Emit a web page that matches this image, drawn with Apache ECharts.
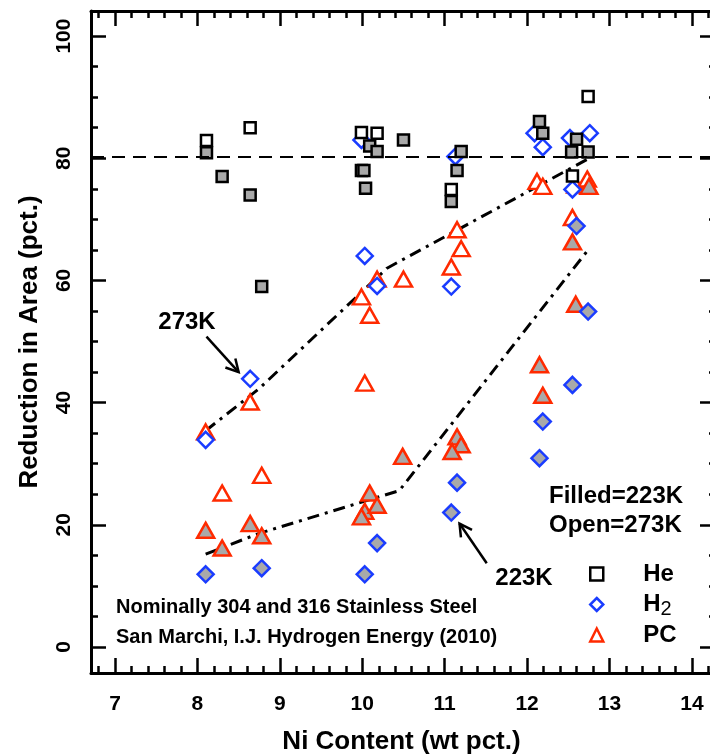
<!DOCTYPE html>
<html><head><meta charset="utf-8">
<script src="https://cdn.jsdelivr.net/npm/echarts@6/dist/echarts.min.js"></script>
<style>html,body{margin:0;padding:0;background:#fff}#c{width:710px;height:756px}</style>
</head><body><div id="c"></div>
<script>
// ---------- data ----------
const xTickValues = [7, 8, 9, 10, 11, 12, 13, 14];
const yTickValues = [0, 20, 40, 60, 80, 100];

// He (squares): open = 273K, filled = 223K
const heOpen = [[8.11,82.9],[8.64,85.0],[9.99,84.2],[10.18,84.1],[9.99,78.0],[11.08,74.9],[12.74,90.1],[12.55,77.1]];
const heFilled = [[8.11,80.9],[8.30,77.0],[8.64,74.0],[8.78,59.0],[10.09,82.0],[10.18,81.1],[10.02,78.0],[10.04,75.1],[10.50,83.0],
  [11.20,81.1],[11.15,78.0],[11.08,72.9],[12.15,86.0],[12.19,84.1],[12.60,83.1],[12.54,81.0],[12.74,81.0]];
// H2 (diamonds)
const h2Open = [[9.99,83.0],[8.64,43.9],[8.10,33.9],[10.03,64.0],[10.18,59.1],[11.08,59.0],[11.13,80.3],[12.09,84.1],[12.19,81.8],
  [12.76,84.1],[12.52,83.3],[12.55,74.9]];
const h2Filled = [[8.10,11.9],[8.78,12.9],[10.03,11.9],[10.18,17.0],[11.08,22.0],[11.15,26.9],[12.15,30.9],[12.19,36.9],[12.55,42.9],
  [12.60,68.9],[12.74,54.9]];
// PC (triangles)
const pcOpen = [[8.10,35.2],[8.64,40.1],[8.30,25.2],[8.78,28.1],[10.03,43.2],[9.99,57.3],[10.09,54.3],[10.18,60.2],[10.50,60.2],
  [11.15,68.3],[11.20,65.2],[11.08,62.2],[12.12,76.2],[12.19,75.4],[12.55,70.3],[12.59,75.6],[12.73,76.6]];
const pcFilled = [[8.10,19.1],[8.30,16.2],[8.64,20.2],[8.78,18.2],[10.09,25.2],[10.03,22.2],[9.99,21.3],[10.18,23.2],[10.49,31.2],
  [11.15,34.4],[11.20,33.1],[11.09,32.0],[12.15,46.2],[12.19,41.2],[12.55,66.3],[12.59,56.1],[12.75,75.4]];

// trend lines
const trend273 = [[8.10,35.4],[8.75,42.3],[10.30,62.0],[12.74,79.9]];
const trend223 = [[8.10,15.2],[8.75,18.6],[10.45,25.6],[12.74,65.0]];
const refLevel = 80.3;

// annotation arrows (data coordinates: tail -> tip)
const arrow273 = { tail: [8.11, 50.8], tip: [8.50, 45.0] };
const arrow223 = { tail: [11.51, 13.7], tip: [11.18, 20.2] };

// ---------- chart ----------
const FONT = "'Liberation Sans', Arial, Helvetica, sans-serif";
const X_MIN = 6.709, X_MAX = 14.243, Y_MIN = -4.26, Y_MAX = 104.1;
const xMinor = []; for (let k = 68; k <= 142; k += 2) if (k % 10) xMinor.push(k / 10);
const yMinor = []; for (let k = 5; k <= 100; k += 5) if (k % 20) yMinor.push(k);

const RED = '#ff2a00', BLUE = '#1a3cff', GRAY = '#a9a9a9';

function mkX(position, ticks, len, labels, line) {
  return {
    type: 'value', gridIndex: 0, position, min: X_MIN, max: X_MAX,
    axisLine: { show: line, onZero: false, lineStyle: { color: '#000', width: 3 } },
    splitLine: { show: false },
    axisTick: { show: true, inside: true, length: len, customValues: ticks, lineStyle: { color: '#000', width: 2.5 } },
    axisLabel: labels ? { show: true, customValues: xTickValues, margin: 21, fontSize: 21, fontWeight: 'bold', color: '#000', fontFamily: FONT } : { show: false },
    name: labels ? 'Ni Content (wt pct.)' : '', nameLocation: 'middle', nameGap: 56,
    nameTextStyle: { fontSize: 26, fontWeight: 'bold', color: '#000', fontFamily: FONT }
  };
}
function mkY(position, ticks, len, labels, line) {
  return {
    type: 'value', gridIndex: 0, position, min: Y_MIN, max: Y_MAX,
    axisLine: { show: line, onZero: false, lineStyle: { color: '#000', width: 3 } },
    splitLine: { show: false },
    axisTick: { show: true, inside: true, length: len, customValues: ticks, lineStyle: { color: '#000', width: 2.5 } },
    axisLabel: labels ? { show: true, customValues: yTickValues, rotate: 90, margin: 16, fontSize: 21, fontWeight: 'bold', color: '#000', fontFamily: FONT } : { show: false },
    name: labels ? 'Reduction in Area (pct.)' : '', nameLocation: 'middle', nameGap: 48, nameRotate: 90,
    nameTextStyle: { fontSize: 26, fontWeight: 'bold', color: '#000', fontFamily: FONT }
  };
}
function sc(name, data, symbol, size, stroke, fill) {
  return { type: 'scatter', name, data, symbol, symbolSize: size, z: 3,
    itemStyle: { color: fill, borderColor: stroke, borderWidth: 2.5, opacity: 1 },
    emphasis: { disabled: true } };
}
const TRI = [17, 15];

const option = {
  animation: false,
  backgroundColor: '#fff',
  grid: { left: 91, top: 11, width: 621, height: 662, containLabel: false, outerBoundsMode: 'none' },
  xAxis: [
    mkX('bottom', xTickValues, 15, true, true),
    mkX('bottom', xMinor, 7, false, false),
    mkX('top', xTickValues, 15, false, true),
    mkX('top', xMinor, 7, false, false)
  ],
  yAxis: [
    mkY('left', yTickValues, 15, true, true),
    mkY('left', yMinor, 7, false, false),
    mkY('right', yTickValues, 12, false, true),
    mkY('right', yMinor, 3, false, false)
  ],
  legend: {
    data: ['He', 'H2', 'PC'], orient: 'vertical', left: 584, top: 554,
    itemWidth: 13, itemHeight: 13, itemGap: 0.5, selectedMode: false,
    itemStyle: { borderWidth: 2.5 },
    formatter: n => n === 'H2' ? 'H{sub|2}' : n,
    textStyle: { fontSize: 24, fontWeight: 'bold', color: '#000', fontFamily: FONT, lineHeight: 30, padding: [0, 0, 0, 35],
      rich: { sub: { fontSize: 20, fontWeight: 'normal', color: '#000', fontFamily: FONT, lineHeight: 20, verticalAlign: 'bottom' } } }
  },
  series: [
    { type: 'line', name: 'trend273', data: trend273, showSymbol: false, z: 2, silent: true,
      lineStyle: { color: '#000', width: 3, type: [12, 6, 3, 6] },
      markLine: { silent: true, symbol: ['none', 'none'], label: { show: false },
        lineStyle: { color: '#000', width: 2, type: [13, 8] }, data: [{ yAxis: refLevel }] } },
    { type: 'line', name: 'trend223', data: trend223, showSymbol: false, z: 2, silent: true,
      lineStyle: { color: '#000', width: 3, type: [12, 6, 3, 6] } },
    sc('PC', pcOpen, 'triangle', TRI, RED, '#fff'),
    sc('PC', pcFilled, 'triangle', TRI, RED, GRAY),
    sc('H2', h2Open, 'diamond', 16, BLUE, '#fff'),
    sc('H2', h2Filled, 'diamond', 16, BLUE, GRAY),
    sc('He', heOpen, 'rect', 11, '#000', '#fff'),
    sc('He', heFilled, 'rect', 11, '#000', GRAY)
  ]
};

const chart = echarts.init(document.getElementById('c'), null, { renderer: 'canvas' });
chart.setOption(option);

function px(p) { return chart.convertToPixel({ gridIndex: 0 }, p); }
const graphics = [];
[arrow273, arrow223].forEach(a => {
  const t = px(a.tail), h = px(a.tip);
  const ang = Math.atan2(t[1] - h[1], t[0] - h[0]);
  const L = 14, sp = 0.5;
  const a1 = [h[0] + L * Math.cos(ang + sp), h[1] + L * Math.sin(ang + sp)];
  const a2 = [h[0] + L * Math.cos(ang - sp), h[1] + L * Math.sin(ang - sp)];
  graphics.push({ type: 'polyline', z: 10, shape: { points: [t, h] }, style: { stroke: '#000', lineWidth: 2.5, fill: null } });
  graphics.push({ type: 'polyline', z: 10, shape: { points: [a1, h, a2] }, style: { stroke: '#000', lineWidth: 2.5, fill: null } });
});
function txt(text, x, y, size, align) {
  return { type: 'text', z: 10, x, y, style: { text, fill: '#000', font: 'bold ' + size + 'px ' + FONT,
    align: align, verticalAlign: 'middle', textAlign: align, textVerticalAlign: 'middle' } };
}
graphics.push(txt('273K', 187, 322, 24, 'center'));
graphics.push(txt('223K', 524, 578, 24, 'center'));
graphics.push(txt('Filled=223K', 549, 496, 24, 'left'));
graphics.push(txt('Open=273K', 549, 525, 24, 'left'));
graphics.push(txt('Nominally 304 and 316 Stainless Steel', 116, 607, 20, 'left'));
graphics.push(txt('San Marchi, I.J. Hydrogen Energy (2010)', 116, 637, 20, 'left'));
chart.setOption({ graphic: graphics });
</script></body></html>
